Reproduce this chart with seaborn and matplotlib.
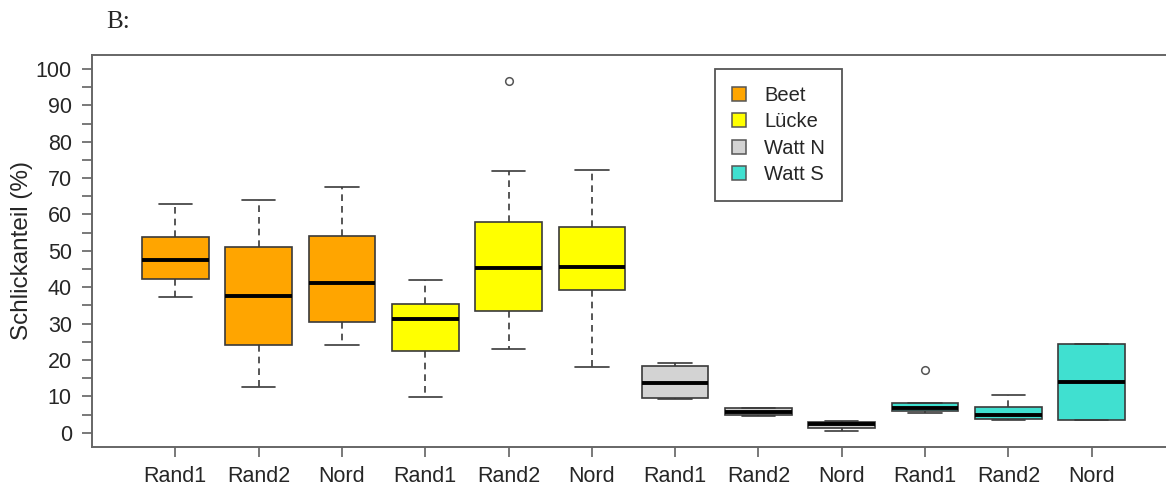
import matplotlib
matplotlib.use('Agg')
import matplotlib.pyplot as plt
from matplotlib.patches import Patch
import pandas as pd
import seaborn as sns

# groups / sites
groups = ['Beet', 'Lücke', 'Watt N', 'Watt S']
sites = ['Rand1', 'Rand2', 'Nord']
colors = ['#FFA500', '#FFFF00', '#D3D3D3', '#40E0D0']

# five-number summaries (box order: Beet R1,R2,N, Lücke ..., Watt N ..., Watt S ...)
lo = [37.3, 12.5, 24.1, 9.9, 23.1, 18.1, 9.3, 4.6, 0.5, 5.5, 3.4, 3.4]
q1 = [42.3, 24.2, 30.3, 22.5, 33.5, 39.2, 9.6, 5.0, 1.4, 5.9, 3.7, 3.4]
med = [47.6, 37.5, 41.2, 31.3, 45.4, 45.6, 13.7, 5.8, 2.5, 6.9, 4.8, 14.0]
q3 = [53.7, 51.0, 54.0, 35.4, 57.8, 56.6, 18.3, 6.7, 3.0, 8.2, 7.1, 24.4]
hi = [63.0, 63.9, 67.5, 42.0, 72.0, 72.3, 19.3, 6.9, 3.3, 8.2, 10.3, 24.4]

# outliers (box index, value)
out_box = [4, 9]
out_val = [96.8, 17.2]

rows = []
for i in range(len(med)):
    for v in (lo[i], q1[i], med[i], q3[i], hi[i]):
        rows.append({'box': i, 'group': groups[i // 3], 'value': v})
df = pd.DataFrame(rows)

sns.set_style('white')
plt.rcParams['font.family'] = ['Liberation Sans', 'DejaVu Sans']

fig = plt.figure(figsize=(11.66, 4.95), dpi=100)
ax = fig.add_axes([92 / 1166, 1 - 446.7 / 495, (1175 - 92) / 1166, 392 / 495])

edge = '#3a3a3a'
sns.boxplot(data=df, x='box', y='value', hue='group', palette=dict(zip(groups, colors)),
            saturation=1, dodge=False, whis=(0, 100), showfliers=False, width=0.8,
            linecolor=edge, linewidth=1.2, legend=False, ax=ax,
            medianprops={'color': 'black', 'linewidth': 2.8},
            whiskerprops={'linestyle': (0, (4, 3)), 'color': edge},
            capprops={'color': edge})
ax.plot(out_box, out_val, 'o', mfc='none', mec='#555555', ms=5.5, mew=1.1)

ax.set_xlim(-1, 12)
ax.set_ylim(-3.85, 103.93)
ax.set_xticks(range(12))
ax.set_xticklabels(sites * 4)
ax.set_yticks(range(0, 101, 10))
ax.set_yticks(range(5, 100, 10), minor=True)
ax.set_xlabel('')
ax.set_ylabel('Schlickanteil (%)', fontsize=17.5)
ax.yaxis.set_label_coords((33.5 - 92) / 1083, 0.5)
ax.tick_params(axis='both', which='both', direction='out', length=7.5, width=1.1,
               color='#555555', labelsize=15.5, left=True, bottom=True)
ax.tick_params(axis='y', which='both', pad=7)
ax.tick_params(axis='x', pad=6.5)
for s in ax.spines.values():
    s.set_visible(True)
    s.set_color('#666666')
    s.set_linewidth(1.4)

handles = [Patch(facecolor=c, edgecolor='#555555', linewidth=1.1, label=g) for g, c in zip(groups, colors)]
leg = ax.legend(handles=handles, loc='upper left', bbox_to_anchor=(715 / 1166, 1 - 69 / 495),
                bbox_transform=fig.transFigure, borderaxespad=0, fontsize=14.5, frameon=True,
                fancybox=False, framealpha=1, edgecolor='#555555', handlelength=0.7,
                handleheight=0.7, handletextpad=0.9, labelspacing=0.36, borderpad=0.85)
leg.get_frame().set_linewidth(1.3)

fig.text(106 / 1166, 1 - 22 / 495, 'B:', family='Liberation Serif', fontsize=18, va='center')

fig.savefig('out.png', dpi=100)
